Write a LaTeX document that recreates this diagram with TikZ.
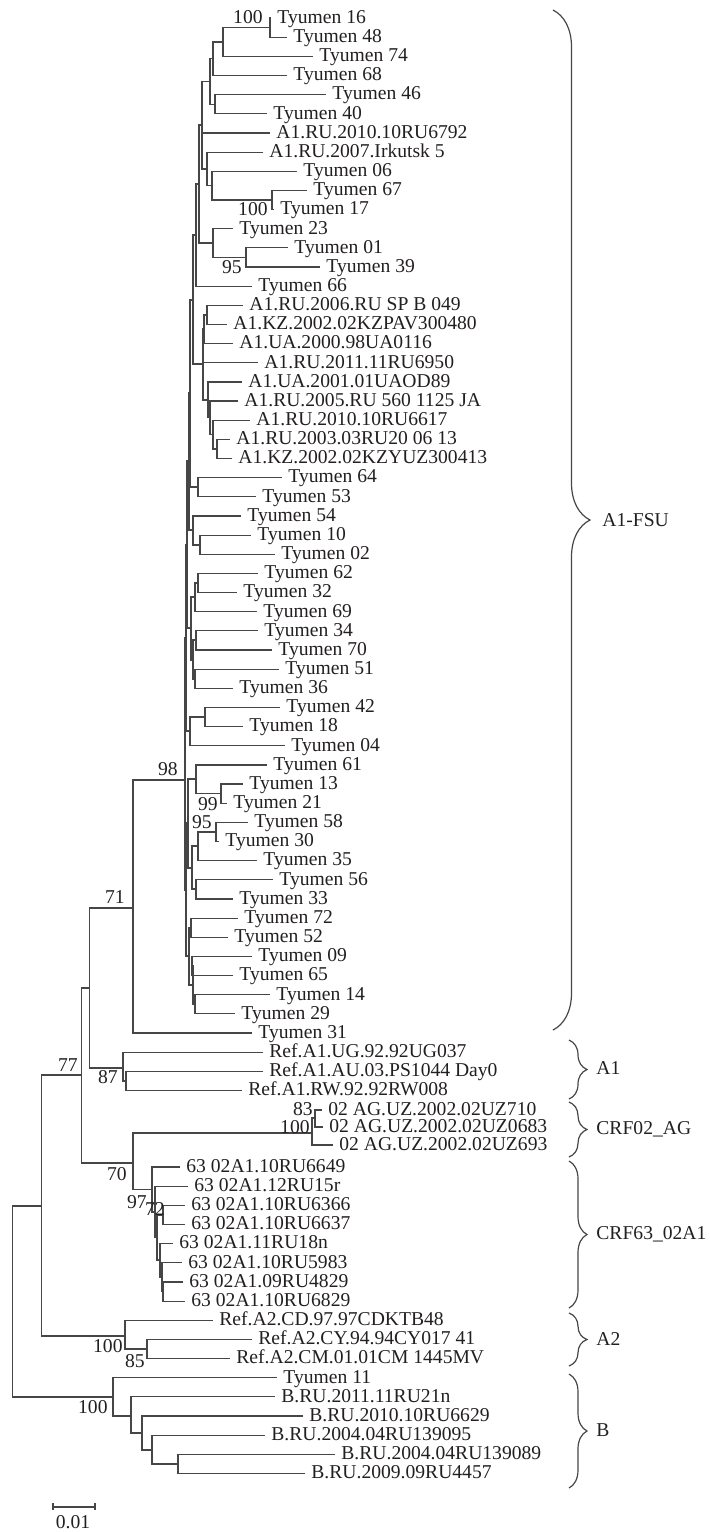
\documentclass[tikz,border=0pt]{standalone}
\usepackage{fontspec}
\setmainfont{Liberation Serif}
\usetikzlibrary{decorations.pathreplacing}
\definecolor{ln}{RGB}{70,70,70}
\definecolor{tx}{RGB}{35,31,32}
\begin{document}
\begin{tikzpicture}[x=0.5pt,y=-0.5pt,
  br/.style={draw=ln, line width=0.6pt},
  leaf/.style={anchor=west, inner xsep=3pt, inner ysep=0pt, text height=7.5pt, text depth=2.2pt, font=\fontsize{9.8}{11}\selectfont, text=tx},
  bs/.style={anchor=base east, inner sep=0pt, font=\fontsize{9.8}{11}\selectfont, text=tx},
  grp/.style={anchor=west, inner sep=0pt, text height=7.5pt, text depth=2.2pt, font=\fontsize{9.8}{11}\selectfont, text=tx},
  brc/.style={draw=ln, line width=0.6pt, decorate, decoration={brace, amplitude=#1}},
]
\useasboundingbox (0,0) rectangle (709,1532);

% ---------- leaves ----------
\node[leaf] (L1) at (271,18.0) {Tyumen 16};
\node[leaf] (L2) at (287,37.2) {Tyumen 48};
\node[leaf] (L3) at (313,56.3) {Tyumen 74};
\node[leaf] (L4) at (287,75.5) {Tyumen 68};
\node[leaf] (L5) at (326,94.6) {Tyumen 46};
\node[leaf] (L6) at (267,113.8) {Tyumen 40};
\node[leaf] (L7) at (270,132.9) {A1.RU.2010.10RU6792};
\node[leaf] (L8) at (263,152.1) {A1.RU.2007.Irkutsk 5};
\node[leaf] (L9) at (297,171.2) {Tyumen 06};
\node[leaf] (L10) at (307,190.4) {Tyumen 67};
\node[leaf] (L11) at (274,209.5) {Tyumen 17};
\node[leaf] (L12) at (233,228.7) {Tyumen 23};
\node[leaf] (L13) at (288,247.8) {Tyumen 01};
\node[leaf] (L14) at (320,267.0) {Tyumen 39};
\node[leaf] (L15) at (252,286.1) {Tyumen 66};
\node[leaf] (L16) at (243,305.3) {A1.RU.2006.RU SP B 049};
\node[leaf] (L17) at (227,324.4) {A1.KZ.2002.02KZPAV300480};
\node[leaf] (L18) at (233,343.6) {A1.UA.2000.98UA0116};
\node[leaf] (L19) at (258,362.7) {A1.RU.2011.11RU6950};
\node[leaf] (L20) at (242,381.9) {A1.UA.2001.01UAOD89};
\node[leaf] (L21) at (238,401.0) {A1.RU.2005.RU 560 1125 JA};
\node[leaf] (L22) at (250,420.2) {A1.RU.2010.10RU6617};
\node[leaf] (L23) at (230,439.3) {A1.RU.2003.03RU20 06 13};
\node[leaf] (L24) at (232,458.5) {A1.KZ.2002.02KZYUZ300413};
\node[leaf] (L25) at (282,477.6) {Tyumen 64};
\node[leaf] (L26) at (256,496.8) {Tyumen 53};
\node[leaf] (L27) at (241,515.9) {Tyumen 54};
\node[leaf] (L28) at (251,535.1) {Tyumen 10};
\node[leaf] (L29) at (275,554.2) {Tyumen 02};
\node[leaf] (L30) at (258,573.4) {Tyumen 62};
\node[leaf] (L31) at (237,592.5) {Tyumen 32};
\node[leaf] (L32) at (257,611.7) {Tyumen 69};
\node[leaf] (L33) at (258,630.8) {Tyumen 34};
\node[leaf] (L34) at (272,650.0) {Tyumen 70};
\node[leaf] (L35) at (279,669.1) {Tyumen 51};
\node[leaf] (L36) at (233,688.3) {Tyumen 36};
\node[leaf] (L37) at (280,707.4) {Tyumen 42};
\node[leaf] (L38) at (243,726.6) {Tyumen 18};
\node[leaf] (L39) at (285,745.7) {Tyumen 04};
\node[leaf] (L40) at (267,764.9) {Tyumen 61};
\node[leaf] (L41) at (243,784.0) {Tyumen 13};
\node[leaf] (L42) at (227,803.2) {Tyumen 21};
\node[leaf] (L43) at (248,822.3) {Tyumen 58};
\node[leaf] (L44) at (219,841.5) {Tyumen 30};
\node[leaf] (L45) at (257,860.6) {Tyumen 35};
\node[leaf] (L46) at (273,879.8) {Tyumen 56};
\node[leaf] (L47) at (233,898.9) {Tyumen 33};
\node[leaf] (L48) at (238,918.1) {Tyumen 72};
\node[leaf] (L49) at (228,937.2) {Tyumen 52};
\node[leaf] (L50) at (252,956.4) {Tyumen 09};
\node[leaf] (L51) at (233,975.5) {Tyumen 65};
\node[leaf] (L52) at (270,994.7) {Tyumen 14};
\node[leaf] (L53) at (235,1013.8) {Tyumen 29};
\node[leaf] (L54) at (252,1033.0) {Tyumen 31};
\node[leaf] (L55) at (263,1052.1) {Ref.A1.UG.92.92UG037};
\node[leaf] (L56) at (263,1071.3) {Ref.A1.AU.03.PS1044 Day0};
\node[leaf] (L57) at (242,1090.4) {Ref.A1.RW.92.92RW008};
\node[leaf] (L58) at (322,1110) {02 AG.UZ.2002.02UZ710};
\node[leaf] (L59) at (323,1127) {02 AG.UZ.2002.02UZ0683};
\node[leaf] (L60) at (333,1145) {02 AG.UZ.2002.02UZ693};
\node[leaf] (L61) at (180,1167.0) {63 02A1.10RU6649};
\node[leaf] (L62) at (188,1186.2) {63 02A1.12RU15r};
\node[leaf] (L63) at (185,1205.3) {63 02A1.10RU6366};
\node[leaf] (L64) at (185,1224.5) {63 02A1.10RU6637};
\node[leaf] (L65) at (173,1243.6) {63 02A1.11RU18n};
\node[leaf] (L66) at (182,1262.8) {63 02A1.10RU5983};
\node[leaf] (L67) at (183,1281.9) {63 02A1.09RU4829};
\node[leaf] (L68) at (185,1301.1) {63 02A1.10RU6829};
\node[leaf] (L69) at (213,1320.2) {Ref.A2.CD.97.97CDKTB48};
\node[leaf] (L70) at (252,1339.4) {Ref.A2.CY.94.94CY017 41};
\node[leaf] (L71) at (230,1358.5) {Ref.A2.CM.01.01CM 1445MV};
\node[leaf] (L72) at (277,1377.7) {Tyumen 11};
\node[leaf] (L73) at (275,1396.8) {B.RU.2011.11RU21n};
\node[leaf] (L74) at (303,1416.0) {B.RU.2010.10RU6629};
\node[leaf] (L75) at (265,1435.1) {B.RU.2004.04RU139095};
\node[leaf] (L76) at (335,1454.3) {B.RU.2004.04RU139089};
\node[leaf] (L77) at (305,1473.4) {B.RU.2009.09RU4457};

% ---------- internal nodes ----------
\coordinate (N100a) at (270,27.6);
\coordinate (U1) at (223,42);
\coordinate (U2) at (213,58.7);
\coordinate (U3) at (215,104.2);
\coordinate (U4) at (210,81.5);
\coordinate (N100b) at (272,200);
\coordinate (U6) at (212,185.6);
\coordinate (U7) at (207,168.9);
\coordinate (U5) at (202,125);
\coordinate (N95) at (246,257.4);
\coordinate (U8) at (213,243);
\coordinate (U9) at (199,184);
\coordinate (U10) at (196,235);
\coordinate (V1) at (207,315);
\coordinate (V2) at (204,329);
\coordinate (V7) at (217,449);
\coordinate (V6) at (213,434.6);
\coordinate (V5) at (210,417.8);
\coordinate (V4) at (208,400);
\coordinate (V3) at (203,364);
\coordinate (W1) at (193,300);
\coordinate (X1) at (198,487);
\coordinate (W2) at (190,393);
\coordinate (X3) at (200,545);
\coordinate (X2) at (193,530);
\coordinate (W3) at (189,461);
\coordinate (Y1) at (198,583);
\coordinate (Y2) at (195,597);
\coordinate (Y3) at (196,640);
\coordinate (Y4) at (195,679);
\coordinate (Y5) at (193,660);
\coordinate (Y6) at (191,628);
\coordinate (W4) at (187,545);
\coordinate (Z1) at (205,717);
\coordinate (Z2) at (190,731);
\coordinate (W5) at (186,638);
\coordinate (N99) at (221,793.6);
\coordinate (Z3) at (196,779);
\coordinate (N95b) at (216,832);
\coordinate (Z4) at (198,846);
\coordinate (Z5) at (196,889);
\coordinate (Z6) at (192,868);
\coordinate (Z7) at (188,823);
\coordinate (Q1) at (191,927.6);
\coordinate (Q2) at (192,966);
\coordinate (Q3) at (195,1004);
\coordinate (Q4) at (193,985);
\coordinate (Q5) at (189,956);
\coordinate (Z8) at (186,890);
\coordinate (N98) at (185,780);
\coordinate (N71) at (133,908);
\coordinate (R2) at (126,1081);
\coordinate (R1) at (123,1068);
\coordinate (N89) at (89.3,988);
\coordinate (C2) at (315,1118);
\coordinate (C1) at (312,1133);
\coordinate (E6) at (163,1291.5);
\coordinate (E5) at (162,1277);
\coordinate (E4) at (160,1260);
\coordinate (E3) at (163,1215);
\coordinate (E2) at (157,1237.5);
\coordinate (N72) at (155,1212);
\coordinate (N97) at (152,1189.5);
\coordinate (N70) at (133,1163);
\coordinate (N77) at (81.7,1075);
\coordinate (A2b) at (147,1349);
\coordinate (A2a) at (125,1336);
\coordinate (N41) at (41.7,1206);
\coordinate (B5) at (178,1464);
\coordinate (B4) at (152,1450);
\coordinate (B3) at (142,1433);
\coordinate (B2) at (131,1416);
\coordinate (B1) at (113,1397);
\coordinate (Root) at (12.7,1300);

% ---------- branches ----------
\draw[br] (N100a) |- (L1.west); \draw[br] (N100a) |- (L2.west);
\draw[br] (U1) |- (N100a); \draw[br] (U1) |- (L3.west);
\draw[br] (U2) |- (U1); \draw[br] (U2) |- (L4.west);
\draw[br] (U3) |- (L5.west); \draw[br] (U3) |- (L6.west);
\draw[br] (U4) |- (U2); \draw[br] (U4) |- (U3);
\draw[br] (N100b) |- (L10.west); \draw[br] (N100b) |- (L11.west);
\draw[br] (U6) |- (L9.west); \draw[br] (U6) |- (N100b);
\draw[br] (U7) |- (L8.west); \draw[br] (U7) |- (U6);
\draw[br] (U5) |- (U4); \draw[br] (U5) |- (L7.west); \draw[br] (U5) |- (U7);
\draw[br] (N95) |- (L13.west); \draw[br] (N95) |- (L14.west);
\draw[br] (U8) |- (L12.west); \draw[br] (U8) |- (N95);
\draw[br] (U9) |- (U5); \draw[br] (U9) |- (U8);
\draw[br] (U10) |- (U9); \draw[br] (U10) |- (L15.west);
\draw[br] (V1) |- (L16.west); \draw[br] (V1) |- (L17.west);
\draw[br] (V2) |- (V1); \draw[br] (V2) |- (L18.west);
\draw[br] (V7) |- (L23.west); \draw[br] (V7) |- (L24.west);
\draw[br] (V6) |- (L22.west); \draw[br] (V6) |- (V7);
\draw[br] (V5) |- (L21.west); \draw[br] (V5) |- (V6);
\draw[br] (V4) |- (L20.west); \draw[br] (V4) |- (V5);
\draw[br] (V3) |- (V2); \draw[br] (V3) |- (L19.west); \draw[br] (V3) |- (V4);
\draw[br] (W1) |- (U10); \draw[br] (W1) |- (V3);
\draw[br] (X1) |- (L25.west); \draw[br] (X1) |- (L26.west);
\draw[br] (W2) |- (W1); \draw[br] (W2) |- (X1);
\draw[br] (X3) |- (L28.west); \draw[br] (X3) |- (L29.west);
\draw[br] (X2) |- (L27.west); \draw[br] (X2) |- (X3);
\draw[br] (W3) |- (W2); \draw[br] (W3) |- (X2);
\draw[br] (Y1) |- (L30.west); \draw[br] (Y1) |- (L31.west);
\draw[br] (Y2) |- (Y1); \draw[br] (Y2) |- (L32.west);
\draw[br] (Y3) |- (L33.west); \draw[br] (Y3) |- (L34.west);
\draw[br] (Y4) |- (L35.west); \draw[br] (Y4) |- (L36.west);
\draw[br] (Y5) |- (Y3); \draw[br] (Y5) |- (Y4);
\draw[br] (Y6) |- (Y2); \draw[br] (Y6) |- (Y5);
\draw[br] (W4) |- (W3); \draw[br] (W4) |- (Y6);
\draw[br] (Z1) |- (L37.west); \draw[br] (Z1) |- (L38.west);
\draw[br] (Z2) |- (Z1); \draw[br] (Z2) |- (L39.west);
\draw[br] (W5) |- (W4); \draw[br] (W5) |- (Z2);
\draw[br] (N99) |- (L41.west); \draw[br] (N99) |- (L42.west);
\draw[br] (Z3) |- (L40.west); \draw[br] (Z3) |- (N99);
\draw[br] (N95b) |- (L43.west); \draw[br] (N95b) |- (L44.west);
\draw[br] (Z4) |- (N95b); \draw[br] (Z4) |- (L45.west);
\draw[br] (Z5) |- (L46.west); \draw[br] (Z5) |- (L47.west);
\draw[br] (Z6) |- (Z4); \draw[br] (Z6) |- (Z5);
\draw[br] (Z7) |- (Z3); \draw[br] (Z7) |- (Z6);
\draw[br] (Q1) |- (L48.west); \draw[br] (Q1) |- (L49.west);
\draw[br] (Q2) |- (L50.west); \draw[br] (Q2) |- (L51.west);
\draw[br] (Q3) |- (L52.west); \draw[br] (Q3) |- (L53.west);
\draw[br] (Q4) |- (Q2); \draw[br] (Q4) |- (Q3);
\draw[br] (Q5) |- (Q1); \draw[br] (Q5) |- (Q4);
\draw[br] (Z8) |- (Z7); \draw[br] (Z8) |- (Q5);
\draw[br] (N98) |- (W5); \draw[br] (N98) |- (Z8);
\draw[br] (N71) |- (N98); \draw[br] (N71) |- (L54.west);
\draw[br] (R2) |- (L56.west); \draw[br] (R2) |- (L57.west);
\draw[br] (R1) |- (L55.west); \draw[br] (R1) |- (R2);
\draw[br] (N89) |- (N71); \draw[br] (N89) |- (R1);
\draw[br] (C2) |- (L58.west); \draw[br] (C2) |- (L59.west);
\draw[br] (C1) |- (C2); \draw[br] (C1) |- (L60.west);
\draw[br] (E6) |- (L67.west); \draw[br] (E6) |- (L68.west);
\draw[br] (E5) |- (L66.west); \draw[br] (E5) |- (E6);
\draw[br] (E4) |- (L65.west); \draw[br] (E4) |- (E5);
\draw[br] (E3) |- (L63.west); \draw[br] (E3) |- (L64.west);
\draw[br] (E2) |- (E3); \draw[br] (E2) |- (E4);
\draw[br] (N72) |- (L62.west); \draw[br] (N72) |- (E2);
\draw[br] (N97) |- (L61.west); \draw[br] (N97) |- (N72);
\draw[br] (N70) |- (C1); \draw[br] (N70) |- (N97);
\draw[br] (N77) |- (N89); \draw[br] (N77) |- (N70);
\draw[br] (A2b) |- (L70.west); \draw[br] (A2b) |- (L71.west);
\draw[br] (A2a) |- (L69.west); \draw[br] (A2a) |- (A2b);
\draw[br] (N41) |- (N77); \draw[br] (N41) |- (A2a);
\draw[br] (B5) |- (L76.west); \draw[br] (B5) |- (L77.west);
\draw[br] (B4) |- (L75.west); \draw[br] (B4) |- (B5);
\draw[br] (B3) |- (L74.west); \draw[br] (B3) |- (B4);
\draw[br] (B2) |- (L73.west); \draw[br] (B2) |- (B3);
\draw[br] (B1) |- (L72.west); \draw[br] (B1) |- (B2);
\draw[br] (Root) |- (N41); \draw[br] (Root) |- (B1);

% ---------- bootstrap values ----------
\node[bs] (s1) at (263,23) {100};
\node[bs] (s2) at (268,215) {100};
\node[bs] (s3) at (242,273) {95};
\node[bs] (s4) at (178,775) {98};
\node[bs] (s5) at (218,810) {99};
\node[bs] (s6) at (212,828) {95};
\node[bs] (s7) at (125,903) {71};
\node[bs] (s8) at (78,1071) {77};
\node[bs] (s9) at (118,1083) {87};
\node[bs] (s10) at (313,1115) {83};
\node[bs] (s11) at (310,1133) {100};
\node[bs] (s12) at (127,1180) {70};
\node[bs] (s13) at (147,1208) {97};
\node[bs] (s14) at (165,1215) {72};
\node[bs] (s15) at (123,1352) {100};
\node[bs] (s16) at (145,1367) {85};
\node[bs] (s17) at (108,1413) {100};

% ---------- group braces ----------
\draw[brc=18.5pt] (553,10) -- (553,1030);
\node[grp] (g1) at (602,521) {A1-FSU};
\draw[brc=9pt] (569,1040) -- (569,1099);
\node[grp] (g2) at (596,1069) {A1};
\draw[brc=9pt] (569,1102) -- (569,1157);
\node[grp] (g3) at (596,1129) {CRF02\_AG};
\draw[brc=9pt] (569,1161) -- (569,1308);
\node[grp] (g4) at (596,1234) {CRF63\_02A1};
\draw[brc=9pt] (569,1313) -- (569,1366);
\node[grp] (g5) at (596,1340) {A2};
\draw[brc=9pt] (569,1374) -- (569,1488);
\node[grp] (g6) at (596,1431) {B};

% ---------- scale bar ----------
\coordinate (sb1) at (53,1507);
\coordinate (sb2) at (95,1507);
\draw[br] (sb1) -- (sb2);
\draw[br] ([yshift=2pt]sb1) -- ([yshift=-1.5pt]sb1);
\draw[br] ([yshift=2pt]sb2) -- ([yshift=-1.5pt]sb2);
\node[bs, anchor=base] (sbl) at (73,1528) {0.01};
\end{tikzpicture}
\end{document}
